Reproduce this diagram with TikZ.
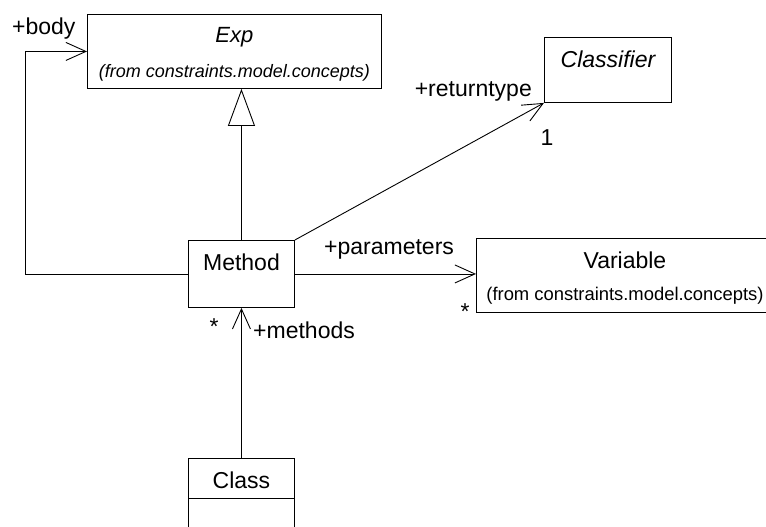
\documentclass[tikz,border=0pt]{standalone}
\usepackage{fontspec}
\setmainfont{Liberation Sans}
\usepackage{tikz}
\usetikzlibrary{arrows.meta,positioning}

\begin{document}
\begin{tikzpicture}[x=1pt, y=-1pt,
    umlbox/.style={rectangle, draw, line width=0.9pt, inner sep=0pt, align=center, anchor=north west, font=\fontsize{23}{27}\selectfont},
    lbl/.style={inner sep=0pt, font=\fontsize{23}{27}\selectfont},
    assoc/.style={line width=0.9pt, -{Straight Barb[length=20pt, width=18pt]}},
    inherit/.style={line width=0.9pt, -{Triangle[open, length=37pt, width=27pt]}}]
    \useasboundingbox (0,0) rectangle (766,527);

    \node[umlbox, minimum width=294pt, text height=63pt, text depth=11pt, font=\fontsize{22}{35}\selectfont\itshape] (exp) at (87,14)
        {Exp\\{\fontsize{18}{22}\selectfont (from constraints.model.concepts)}};
    \node[umlbox, minimum width=127pt, text height=30pt, text depth=35pt, font=\fontsize{23}{27}\selectfont\itshape] (clsf) at (544,37) {Classifier};
    \node[umlbox, minimum width=106pt, text height=30pt, text depth=37pt] (meth) at (188,240) {Method};
    \node[umlbox, minimum width=297pt, text height=62pt, text depth=12pt, font=\fontsize{23}{32}\selectfont] (var) at (476,238)
        {Variable\\{\fontsize{18.4}{22}\selectfont (from constraints.model.concepts)}};
    \node[umlbox, minimum width=106pt, text height=30pt, text depth=10pt] (cls) at (188,458) {Class};
    \draw[line width=0.9pt] (cls.south west) rectangle ++(106,40);

    \draw[inherit] (meth.north) -- (meth.north |- exp.south);
    \draw[assoc] (meth.west) -| ([xshift=-62pt]exp.west) -- (exp.west);
    \draw[assoc] (meth.north east) -- (clsf.south west);
    \draw[assoc] (meth.east) -- (meth.east -| var.west);
    \draw[assoc] (cls.north) -- (meth.south);

    \node[lbl, anchor=base west] (lbody) at (12,35) {+body};
    \node[lbl, anchor=base east] (lret) at (532,96) {+returntype};
    \node[lbl, anchor=base] (lone) at (547,145) {1};
    \node[lbl, anchor=base west] (lpar) at (324,254) {+parameters};
    \node[lbl, anchor=base] (lparmult) at (465,319) {*};
    \node[lbl, anchor=base] (lmethmult) at (214,334) {*};
    \node[lbl, anchor=base west] (lmeths) at (253,338) {+methods};
\end{tikzpicture}
\end{document}
